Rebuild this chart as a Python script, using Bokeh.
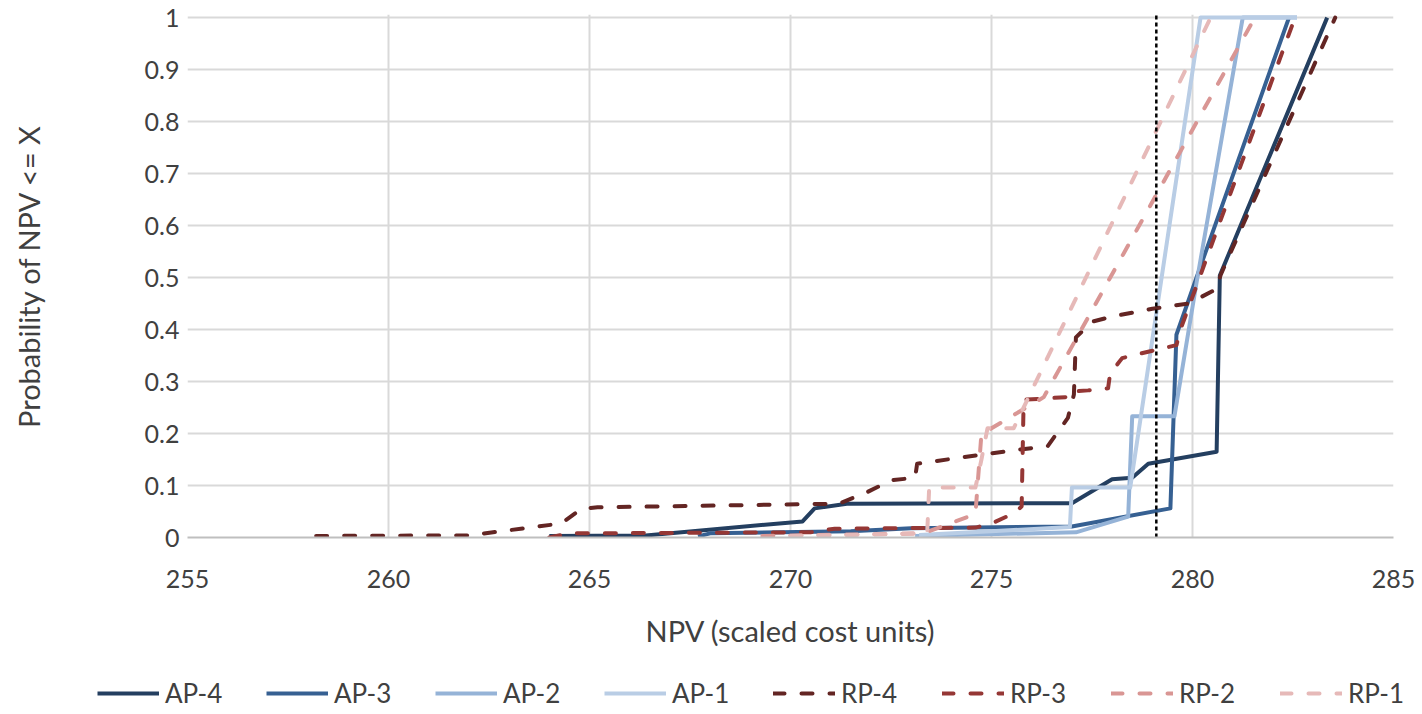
from bokeh.plotting import figure
from bokeh.layouts import column
from bokeh.models import (Range1d, FixedTicker, NumeralTickFormatter, Legend, LegendItem)
from bokeh.embed import file_html
from bokeh.resources import INLINE

# ---------------- data ----------------
ap4_x = [264.0, 266.4, 270.3, 270.6, 271.4, 277.0, 278.0, 278.5, 278.9, 280.6, 280.68, 283.35]
ap4_y = [0.003, 0.004, 0.031, 0.056, 0.065, 0.066, 0.112, 0.115, 0.142, 0.165, 0.504, 1.0]

ap3_x = [267.7, 268.0, 271.5, 273.0, 277.0, 279.45, 279.6, 280.1, 282.4]
ap3_y = [0.002, 0.008, 0.012, 0.018, 0.021, 0.056, 0.39, 0.5, 1.0]

ap2_x = [273.1, 277.1, 278.4, 278.5, 279.55, 280.1, 281.25, 282.6]
ap2_y = [0.003, 0.01, 0.04, 0.233, 0.233, 0.49, 1.0, 1.0]

ap1_x = [273.2, 275.0, 276.95, 277.0, 278.45, 280.2, 282.6]
ap1_y = [0.005, 0.012, 0.02, 0.096, 0.096, 1.0, 1.0]

rp4_x = [258.2, 262.0, 264.3, 264.8, 265.2, 271.2, 271.9, 272.5, 273.1, 273.15, 275.0, 276.4,
         276.9, 277.05, 277.1, 277.5, 278.0, 279.0, 279.9, 280.6, 280.7, 283.55]
rp4_y = [0.003, 0.004, 0.027, 0.055, 0.058, 0.065, 0.087, 0.11, 0.115, 0.142, 0.162, 0.176,
         0.23, 0.275, 0.385, 0.415, 0.425, 0.44, 0.45, 0.478, 0.505, 1.0]

rp3_x = [264.0, 264.5, 270.5, 271.1, 274.6, 275.0, 275.6, 275.75, 275.8, 276.85, 276.9, 277.4,
         277.9, 277.95, 278.25, 278.6, 279.6, 279.7, 282.55]
rp3_y = [0.0, 0.008, 0.01, 0.017, 0.019, 0.027, 0.048, 0.06, 0.265, 0.27, 0.28, 0.283,
         0.287, 0.315, 0.345, 0.352, 0.37, 0.4, 1.0]

rp2_x = [269.3, 273.3, 274.6, 274.75, 275.0, 276.3, 281.55]
rp2_y = [0.003, 0.008, 0.045, 0.2, 0.21, 0.27, 1.0]

rp1_x = [270.0, 273.4, 273.45, 274.6, 274.75, 274.9, 275.55, 280.45]
rp1_y = [0.003, 0.008, 0.096, 0.096, 0.15, 0.21, 0.21, 1.0]

ref_npv = 279.1

x_ticks = [255, 260, 265, 270, 275, 280, 285]
y_ticks = [0, 0.1, 0.2, 0.3, 0.4, 0.5, 0.6, 0.7, 0.8, 0.9, 1.0]

series = [
    ("AP-4", ap4_x, ap4_y, "#243F60", "solid"),
    ("AP-3", ap3_x, ap3_y, "#366092", "solid"),
    ("AP-2", ap2_x, ap2_y, "#95B3D7", "solid"),
    ("AP-1", ap1_x, ap1_y, "#B9CDE5", "solid"),
    ("RP-4", rp4_x, rp4_y, "#632523", "11 17"),
    ("RP-3", rp3_x, rp3_y, "#953735", "11 17"),
    ("RP-2", rp2_x, rp2_y, "#D99694", "11 17"),
    ("RP-1", rp1_x, rp1_y, "#E6B9B8", "11 17"),
]

FONT = "Lato"
TXT = "#404040"
W = 1422

# ---------------- main chart ----------------
p = figure(width=W, height=667, x_range=Range1d(255, 285), y_range=Range1d(0, 1.006),
           output_backend="svg", toolbar_location=None,
           min_border_left=187, min_border_right=29, min_border_top=14, min_border_bottom=130)
p.outline_line_color = None
p.frame_align = False

p.xaxis.ticker = FixedTicker(ticks=x_ticks)
p.yaxis.ticker = FixedTicker(ticks=y_ticks)
p.yaxis.formatter = NumeralTickFormatter(format="0.[0]")

for ax in (p.xaxis[0], p.yaxis[0]):
    ax.major_tick_line_color = None
    ax.minor_tick_line_color = None
    ax.major_label_text_font = FONT
    ax.major_label_text_font_size = "25px"
    ax.major_label_text_color = TXT
    ax.axis_label_text_font = FONT
    ax.axis_label_text_font_size = "29px"
    ax.axis_label_text_font_style = "normal"
    ax.axis_label_text_color = TXT

p.xaxis.axis_line_color = "#BFBFBF"
p.xaxis.axis_line_width = 2
p.yaxis.axis_line_color = None
p.xaxis.major_label_standoff = 26
p.yaxis.major_label_standoff = 2
p.xaxis.axis_label = "NPV (scaled cost units)"
p.yaxis.axis_label = "Probability of NPV <= X"
p.xaxis.axis_label_standoff = 22
p.yaxis.axis_label_standoff = 96

p.xgrid.grid_line_color = "#D9D9D9"
p.ygrid.grid_line_color = "#D9D9D9"
p.xgrid.grid_line_width = 2
p.ygrid.grid_line_width = 2

for name, xs, ys, col, dash in series:
    p.line(xs, ys, line_color=col, line_width=4, line_dash=dash,
           line_cap="round" if dash != "solid" else "butt", line_join="round")

p.line([ref_npv, ref_npv], [0, 1.006], line_color="black", line_width=2.5, line_dash="4 3")

# ---------------- legend strip (same series, plotted outside its view) ----------------
q = figure(width=W, height=47, x_range=Range1d(0, 1), y_range=Range1d(0, 1),
           output_backend="svg", toolbar_location=None, x_axis_type=None, y_axis_type=None,
           min_border_left=0, min_border_right=0, min_border_top=0, min_border_bottom=0)
q.outline_line_color = None
q.frame_align = False
q.xgrid.visible = False
q.ygrid.visible = False

items = []
for name, xs, ys, col, dash in series:
    r = q.line(xs, ys, line_color=col, line_width=4, line_dash=dash,
               line_cap="round" if dash != "solid" else "butt")
    items.append(LegendItem(label=name, renderers=[r]))

legend = Legend(items=items, orientation="horizontal", location=(97, 5),
                glyph_width=62, glyph_height=30, label_height=30, label_width=96,
                label_standoff=6, spacing=5, padding=0, margin=0,
                label_text_font=FONT, label_text_font_size="26px", label_text_color=TXT,
                background_fill_alpha=0, border_line_color=None)
q.add_layout(legend, "center")

layout = column(p, q, spacing=0)
open("out.html", "w").write(file_html(layout, INLINE))
